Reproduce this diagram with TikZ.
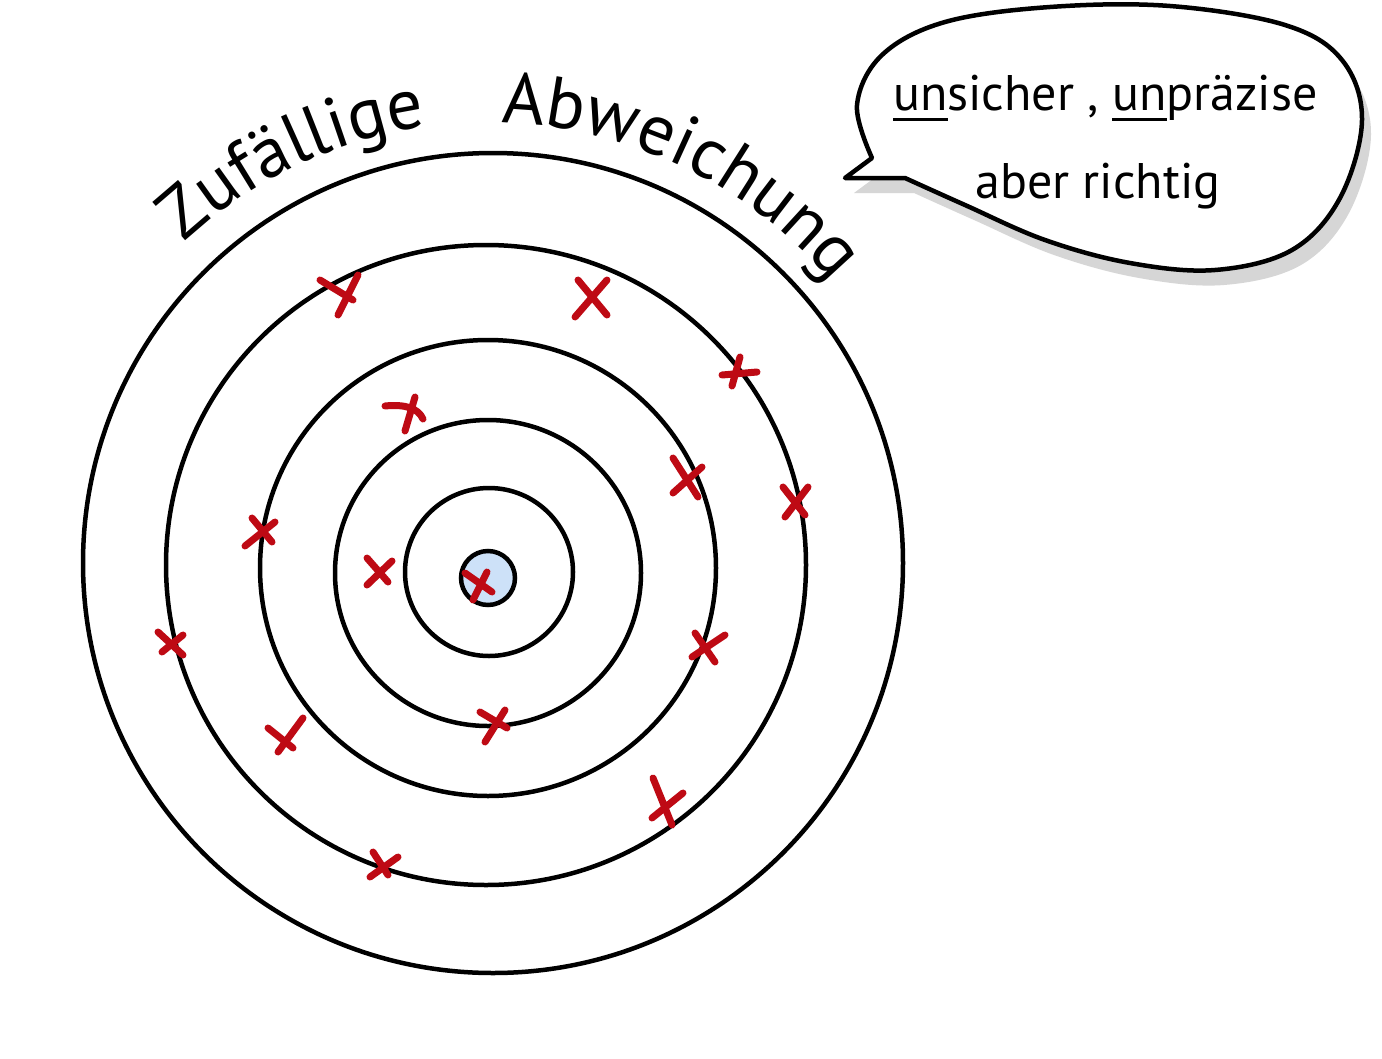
\documentclass[tikz,border=0pt]{standalone}
\usepackage{fontspec}
\newfontfamily\hand{PT Sans}
\usetikzlibrary{decorations.text}
\definecolor{xred}{RGB}{190,10,20}
\definecolor{bullblue}{RGB}{205,225,248}
\definecolor{shadowgray}{RGB}{214,214,214}
\newcommand{\myul}[1]{\setbox0=\hbox{#1}\rlap{\rule[-11pt]{\wd0}{3.5pt}}\box0}
\begin{document}
\begin{tikzpicture}[x=1pt,y=1pt,
  ring/.style={draw=black, line width=4.5pt},
  xm/.style={draw=xred, line width=7pt, line cap=round},
  bubbletext/.style={anchor=base west, inner sep=0pt, font=\hand\fontsize{50}{60}\selectfont},
  bubble/.pic={\path[pic actions, line join=round]
     (845,-178) -- (905,-178) -- plot[smooth, tension=0.6] coordinates {(905,-178) (965,-205) (1045,-240) (1130,-263) (1215,-270) (1292,-250) (1340,-198) (1362,-120) (1342,-60) (1285,-25) (1170,-6) (1050,-7) (945,-22) (882,-55) (857,-105) (872,-158)} -- cycle;}
]
\useasboundingbox (0,0) rectangle (1382,-1058);
\fill[white] (0,0) rectangle (1382,-1058);

% target rings
\draw[ring] (493,-563) circle[radius=410];
\draw[ring] (486,-565) circle[radius=320];
\draw[ring] (488,-568) circle[radius=228];
\draw[ring] (488,-573) circle[radius=153];
\draw[ring] (489,-572) circle[radius=84];
\draw[ring, fill=bullblue] (488,-578) circle[radius=27];

% red crosses
\draw[xm] (320,-280) -- (353,-300) (358,-275) -- (338,-315);
\draw[xm] (385,-406) .. controls (405,-404) and (418,-408) .. (423,-419) (415,-397) -- (405,-431);
\draw[xm] (252,-518) -- (272,-542) (275,-522) -- (245,-546);
\draw[xm] (367,-558) -- (388,-582) (392,-561) -- (367,-585);
\draw[xm] (578,-280) -- (607,-315) (607,-280) -- (575,-317);
\draw[xm] (722,-375) -- (757,-372) (740,-357) -- (732,-386);
\draw[xm] (673,-458) -- (698,-497) (702,-467) -- (673,-493);
\draw[xm] (783,-487) -- (805,-515) (808,-487) -- (785,-517);
\draw[xm] (158,-632) -- (183,-655) (183,-635) -- (162,-652);
\draw[xm] (268,-728) -- (293,-748) (303,-718) -- (278,-752);
\draw[xm] (480,-712) -- (507,-728) (505,-710) -- (485,-742);
\draw[xm] (373,-852) -- (388,-875) (398,-857) -- (370,-877);
\draw[xm] (695,-633) -- (715,-662) (725,-635) -- (692,-657);
\draw[xm] (653,-778) -- (672,-825) (683,-793) -- (652,-818);
\draw[xm] (465,-573) -- (492,-592) (487,-572) -- (473,-600);

% arched title
\path[shift={(490,-570)}, decorate, decoration={text along path, text align=center,
  text={|\hand\fontsize{72}{72}\selectfont|Zufällige}}]
  (145.6:448) arc[start angle=145.6, end angle=85.6, radius=448];
\path[shift={(490,-570)}, decorate, decoration={text along path, text align=center,
  text={|\hand\fontsize{72}{72}\selectfont|Abweichung}}]
  (94.3:447) arc[start angle=94.3, end angle=34.3, radius=447];

% speech bubble
\pic[fill=shadowgray] at (9,-15) {bubble};
\pic[fill=white, draw=black, line width=4.5pt] at (0,0) {bubble};
\node[bubbletext] (line1) at (893,-110) {\myul{un}sicher , \myul{un}präzise};
\node[bubbletext] (line2) at (975,-198) {aber richtig};
\end{tikzpicture}
\end{document}
